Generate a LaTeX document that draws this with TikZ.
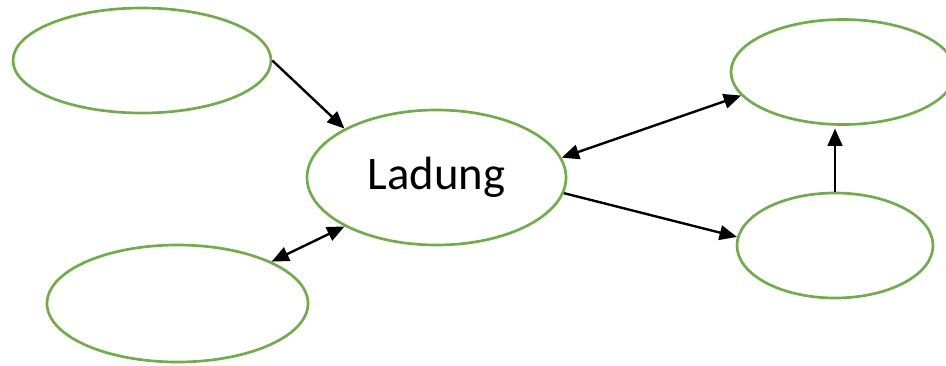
\documentclass[tikz,border=0pt]{standalone}
\usepackage{fontspec}
\setmainfont{Carlito}
\usetikzlibrary{shapes.geometric,arrows.meta}

\definecolor{bubblegreen}{RGB}{112,173,71}

\tikzset{
  bubble/.style={ellipse, draw=bubblegreen, line width=2pt, inner sep=0pt},
  link/.style={line width=1.8pt, -{Triangle[length=13pt,width=11pt]}},
  bilink/.style={line width=1.8pt, {Triangle[length=13pt,width=11pt]}-{Triangle[length=13pt,width=11pt]}}
}

\begin{document}
\begin{tikzpicture}[x=0.75pt,y=0.75pt,yscale=-1]
  \useasboundingbox (0,0) rectangle (946,365);

  % bubbles
  \node [bubble, minimum width=193.5pt, minimum height=78.75pt]  (topleft)  at (142,60.5)  {};
  \node [bubble, minimum width=194.25pt, minimum height=101.25pt, font=\fontsize{35}{42}\selectfont] (ladung) at (436.5,177.5) {Ladung};
  \node [bubble, minimum width=195.75pt, minimum height=87.75pt] (botleft)  at (177.5,303.5) {};
  \node [bubble, minimum width=168pt, minimum height=78.75pt]    (topright) at (843,72)   {};
  \node [bubble, minimum width=147pt, minimum height=78.75pt]    (botright) at (835,245.5) {};

  % arrows
  \draw [link]   (topleft.east) -- (ladung.152);
  \draw [bilink] (botleft.24) -- (ladung.208);
  \draw [bilink] (ladung.9) -- (topright.193);
  \draw [link]   (ladung.353) -- (botright.175);
  \draw [link, shorten >=2pt] (botright.north) -- (botright.north |- topright.south);

\end{tikzpicture}
\end{document}
